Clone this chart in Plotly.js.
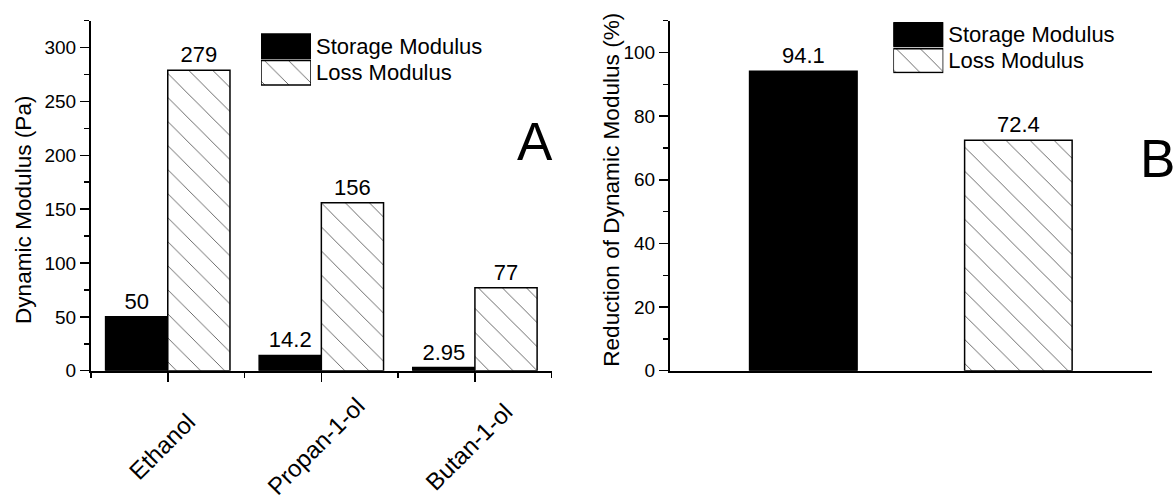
<!DOCTYPE html>
<html>
<head>
<meta charset="utf-8">
<script src="https://cdn.plot.ly/plotly-3.0.1.min.js"></script>
<style>
  html, body { margin: 0; padding: 0; background: #fff; }
  #chart { width: 1176px; height: 501px; }
</style>
</head>
<body>
<div id="chart"></div>
<script>
// Panel A: dynamic modulus of the gel in each alcohol
const solvents = ['Ethanol', 'Propan-1-ol', 'Butan-1-ol'];
const storageModulus = [50, 14.2, 2.95];
const lossModulus = [279, 156, 77];

// Panel B: reduction of the dynamic modulus
const seriesNames = ['Storage Modulus', 'Loss Modulus'];
const reductionValues = [94.1, 72.4];

const panelLetters = ['A', 'B'];
const yTitles = ['Dynamic Modulus (Pa)', 'Reduction of Dynamic Modulus (%)'];

// ---- page geometry (pixels -> paper fractions) ----
const W = 1176, H = 501;
const px = x => x / W;
const py = y => 1 - y / H;

const FONT = "'Liberation Sans', Arial, Helvetica, sans-serif";
const INK = '#000';

const storageMarker = { color: '#000', line: { color: INK, width: 1.5 } };
const lossMarker = {
  color: '#fff',
  line: { color: INK, width: 1.5 },
  pattern: { shape: '\\', fgcolor: '#505050', bgcolor: '#fff', size: 17, solidity: 0.05 }
};
const markers = [storageMarker, lossMarker];
const labelFont = { family: FONT, size: 22, color: INK };

const idx = solvents.map((_, i) => i);

const traces = [
  {
    type: 'bar', name: seriesNames[0], x: idx, y: storageModulus,
    xaxis: 'x', yaxis: 'y', marker: storageMarker,
    texttemplate: '%{y}', textposition: 'outside', textfont: labelFont,
    cliponaxis: false, showlegend: false, hoverinfo: 'skip'
  },
  {
    type: 'bar', name: seriesNames[1], x: idx, y: lossModulus,
    xaxis: 'x', yaxis: 'y', marker: lossMarker,
    texttemplate: '%{y}', textposition: 'outside', textfont: labelFont,
    cliponaxis: false, showlegend: false, hoverinfo: 'skip'
  }
];

// Panel B: one bar per modulus, sharing a single slot so each sits centred on its position
reductionValues.forEach((v, i) => {
  traces.push({
    type: 'bar', name: seriesNames[i], x: [i], y: [v],
    xaxis: 'x2', yaxis: 'y2', width: 0.5, offsetgroup: 'reduction', marker: markers[i],
    texttemplate: '%{y}', textposition: 'outside', textfont: labelFont,
    cliponaxis: false, showlegend: false, hoverinfo: 'skip'
  });
});

// Key swatches: a small horizontal bar strip per panel, labelled by its own category axis
[['x3', 'y3'], ['x4', 'y4']].forEach(([xa, ya]) => {
  seriesNames.forEach((name, i) => {
    traces.push({
      type: 'bar', orientation: 'h', y: [name], x: [1],
      xaxis: xa, yaxis: ya, width: 0.92, offsetgroup: 'key',
      marker: markers[i], showlegend: false, hoverinfo: 'skip'
    });
  });
});

const plotTop = 20.7, plotBottom = 370.7;
const valueDomain = [py(plotBottom), py(plotTop)];

const baseX = {
  showgrid: false, zeroline: false, showline: true, linecolor: INK, linewidth: 2,
  showticklabels: false, fixedrange: true
};
const baseY = {
  showgrid: false, zeroline: false, showline: true, linecolor: INK, linewidth: 2,
  ticks: 'outside', ticklen: 9, tickwidth: 1.5, tickcolor: INK,
  tickfont: { family: FONT, size: 19, color: INK }, fixedrange: true
};
const keyX = { range: [0, 1], visible: false, fixedrange: true };
const keyY = {
  type: 'category', categoryarray: seriesNames, autorange: 'reversed', side: 'right',
  tickmode: 'array', tickvals: seriesNames, ticktext: seriesNames,
  showline: false, showgrid: false, zeroline: false, ticks: '',
  tickfont: { family: FONT, size: 22, color: INK }, ticklabelstandoff: 4, fixedrange: true
};

const layout = {
  width: W, height: H,
  margin: { l: 0, r: 0, t: 0, b: 0, autoexpand: false },
  paper_bgcolor: '#fff', plot_bgcolor: 'rgba(0,0,0,0)',
  font: { family: FONT, color: INK },
  showlegend: false, hovermode: false,
  barmode: 'group', bargap: 0.19, bargroupgap: 0,
  xaxis: Object.assign({}, baseX, {
    domain: [px(91), px(551.7)], anchor: 'y', range: [-0.5, solvents.length - 0.5],
    tickmode: 'array', tickvals: idx,
    ticks: 'outside', ticklen: 9, tickwidth: 1.5, tickcolor: INK,
    minor: {
      tickmode: 'array', tickvals: [-0.5, 0.5, 1.5, 2.5],
      ticks: 'outside', ticklen: 5, tickwidth: 1.5, tickcolor: INK, showgrid: false
    }
  }),
  yaxis: Object.assign({}, baseY, {
    domain: valueDomain, anchor: 'x', range: [0, 325],
    tickmode: 'linear', tick0: 0, dtick: 50,
    minor: { dtick: 25, ticks: 'outside', ticklen: 5, tickwidth: 1.5, tickcolor: INK, showgrid: false }
  }),
  xaxis2: Object.assign({}, baseX, {
    domain: [px(670), px(1151.7)], anchor: 'y2', range: [-0.62, 1.62], ticks: ''
  }),
  yaxis2: Object.assign({}, baseY, {
    domain: valueDomain, anchor: 'x2', range: [0, 110],
    tickmode: 'linear', tick0: 0, dtick: 20,
    minor: { dtick: 10, ticks: 'outside', ticklen: 5, tickwidth: 1.5, tickcolor: INK, showgrid: false }
  }),
  xaxis3: Object.assign({}, keyX, { domain: [px(261), px(311)], anchor: 'y3' }),
  yaxis3: Object.assign({}, keyY, { domain: [py(86), py(33)], anchor: 'x3' }),
  xaxis4: Object.assign({}, keyX, { domain: [px(893.3), px(943.3)], anchor: 'y4' }),
  yaxis4: Object.assign({}, keyY, { domain: [py(73.5), py(21.7)], anchor: 'x4' }),
  annotations: []
};

// Panel letters
layout.annotations.push(
  { text: panelLetters[0], xref: 'paper', yref: 'paper', x: px(534.5), y: py(141.5),
    xanchor: 'center', yanchor: 'middle', showarrow: false, font: { family: FONT, size: 53, color: INK } },
  { text: panelLetters[1], xref: 'paper', yref: 'paper', x: px(1157.4), y: py(159),
    xanchor: 'center', yanchor: 'middle', showarrow: false, font: { family: FONT, size: 53, color: INK } }
);

// Vertical axis titles
layout.annotations.push(
  { text: yTitles[0], xref: 'paper', yref: 'paper', x: px(23), y: py(210), textangle: -90,
    xanchor: 'center', yanchor: 'middle', showarrow: false, font: { family: FONT, size: 22.6, color: INK } },
  { text: yTitles[1], xref: 'paper', yref: 'paper', x: px(610.8), y: py(190), textangle: -90,
    xanchor: 'center', yanchor: 'middle', showarrow: false, font: { family: FONT, size: 22.6, color: INK } }
);

// Slanted solvent names under panel A
solvents.forEach((name, i) => {
  layout.annotations.push({
    text: name, xref: 'x', yref: 'paper', x: i, y: py(446), xshift: -6, textangle: -45,
    xanchor: 'center', yanchor: 'middle', showarrow: false,
    font: { family: FONT, size: 24, color: INK }
  });
});

Plotly.newPlot('chart', traces, layout, { displayModeBar: false, staticPlot: true });
</script>
</body>
</html>
